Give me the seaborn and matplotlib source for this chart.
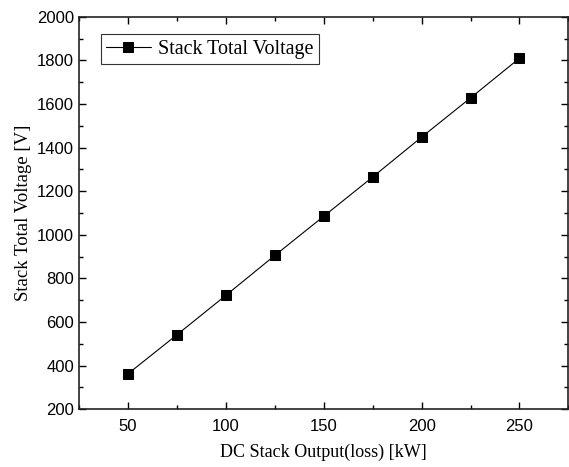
import matplotlib
matplotlib.use("Agg")
import matplotlib.pyplot as plt
from matplotlib.ticker import MultipleLocator
import seaborn as sns
import pandas as pd

# Stack output power and resulting total stack voltage
output_kw = [50, 75, 100, 125, 150, 175, 200, 225, 250]
total_voltage = [362, 541, 722, 905, 1085, 1265, 1448, 1628, 1810]
series_name = "Stack Total Voltage"

df = pd.DataFrame({"output": output_kw, "voltage": total_voltage})

sns.set_style("ticks")
plt.rcParams["font.family"] = ["Liberation Sans", "DejaVu Sans"]
plt.rcParams["text.color"] = "black"
plt.rcParams["axes.labelcolor"] = "black"

fig = plt.figure(figsize=(5.69, 4.67), dpi=100)
ax = fig.add_axes([0.139, 0.124, 0.86, 0.840])

sns.lineplot(data=df, x="output", y="voltage", ax=ax, color="black",
             linewidth=0.8, marker="s", markersize=6.8, markeredgecolor="black",
             markerfacecolor="black", label=series_name)

ax.set_xlim(25, 275)
ax.set_ylim(200, 2000)
ax.xaxis.set_major_locator(MultipleLocator(50))
ax.xaxis.set_minor_locator(MultipleLocator(25))
ax.yaxis.set_major_locator(MultipleLocator(200))
ax.yaxis.set_minor_locator(MultipleLocator(100))
ax.tick_params(which="both", direction="in", top=True, right=True,
               labelsize=12, width=1, colors="black")
ax.tick_params(which="major", length=5)
ax.tick_params(which="minor", length=3)
ax.tick_params(axis="x", pad=7)
for s in ax.spines.values():
    s.set_linewidth(1.2)
    s.set_color("#222222")

ax.set_xlabel("DC Stack Output(loss) [kW]", family="Liberation Serif", fontsize=13, labelpad=7)
ax.set_ylabel("Stack Total Voltage [V]", family="Liberation Serif", fontsize=13.5, labelpad=4)

leg = ax.legend(loc="upper left", bbox_to_anchor=(0.044, 0.956), frameon=True,
                fancybox=False, edgecolor="black", prop={"family": "Liberation Serif", "size": 14.5},
                handlelength=2.2, borderpad=0.28, handletextpad=0.35, borderaxespad=0)
leg.get_frame().set_linewidth(0.8)

fig.savefig("out.png", dpi=100)
